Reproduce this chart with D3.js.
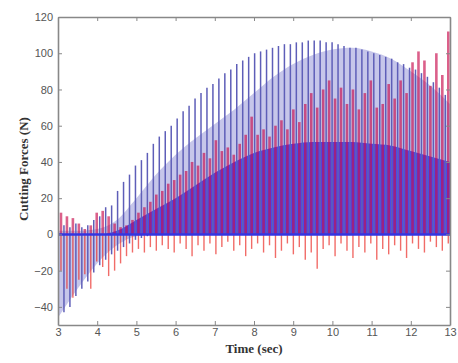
<!DOCTYPE html>
<html>
<head>
<meta charset="utf-8">
<script src="https://cdn.jsdelivr.net/npm/d3@7"></script>
<style>
  body { margin: 0; background: #fff; }
  .tick text { font-family: "Liberation Sans", Arial, sans-serif; font-size: 11px; fill: #555; }
</style>
</head>
<body>
<svg id="chart" width="458" height="363"></svg>
<script>
// axis ticks
const xTicks = [3, 4, 5, 6, 7, 8, 9, 10, 11, 12, 13];
const yTicks = [-40, -20, 0, 20, 40, 60, 80, 100, 120];

// spike grid (tooth passing period, sec) and first spike times
const spikePeriod = 0.152;
const blueStart = 3.0;
const redStart = 3.076;

// blue force: spike tops and bottoms (N), one per period
const bluePeaks = [3, 5, 4, 6, 4, 5, 8, 10, 15, 16,
  24, 29, 33, 38, 41, 45, 50, 54, 57, 60,
  64, 68, 71, 75, 78, 81, 83, 86, 89, 91,
  94, 96, 98, 100, 101, 102, 103, 104, 105, 105,
  106, 106, 107, 107, 107, 106, 106, 105, 104, 103,
  103, 102, 101, 100, 99, 98, 97, 95, 94, 92,
  91, 89, 87, 84, 81, 77];
const blueTroughs = [-30, -43, -40, -34, -30, -26, -21, -17, -14, -11,
  -9, -7, -5, -3, -2, -1, 0, 0, 0, 0,
  0, 0, 0, 0, 0, 0, 0, 0, 0, 0,
  0, 0, 0, 0, 0, 0, 0, 0, 0, 0,
  0, 0, 0, 0, 0, 0, 0, 0, 0, 0,
  0, 0, 0, 0, 0, 0, 0, 0, 0, 0,
  0, 0, 0, 0, 0, 0];

// red force: spike tops and bottoms (N)
const redPeaks = [12, 10, 9, 6, 3, 5, 12, 13, 10, 6,
  4, 5, 8, 12, 15, 18, 22, 24, 28, 30,
  33, 35, 40, 38, 45, 42, 52, 46, 48, 44,
  50, 55, 65, 55, 58, 54, 60, 63, 58, 69,
  62, 72, 78, 70, 80, 85, 75, 81, 72, 80,
  69, 78, 85, 70, 72, 83, 75, 85, 78, 95,
  101, 96, 82, 100, 88, 112];
const redTroughs = [-20, -30, -35, -25, -22, -30, -15, -18, -23, -20,
  -16, -12, -10, -8, -10, -7, -9, -6, -8, -10,
  -5, -8, -12, -6, -9, -5, -11, -7, -4, -9,
  -6, -12, -8, -5, -10, -6, -13, -9, -5, -11,
  -7, -14, -10, -19, -8, -6, -12, -5, -9, -13,
  -7, -10, -5, -14, -8, -11, -6, -9, -13, -5,
  -8, -10, -4, -7, -9, -5];

// envelopes of the shaded blue regions, every 0.5 sec
const envTimes = [3, 3.5, 4, 4.5, 5, 5.5, 6, 6.5, 7, 7.5, 8, 8.5, 9, 9.5, 10, 10.5, 11, 11.5, 12, 12.5, 13];
const blueFillTop = [2, 2, 3, 8, 20, 33, 44, 53, 61, 69, 78, 87, 94, 99, 102, 103, 101, 97, 90, 82, 72];
const blueFillBottom = [-46, -30, -16, -6, -1, 0, 0, 0, 0, 0, 0, 0, 0, 0, 0, 0, 0, 0, 0, 0, 0];
const blueDenseTop = [0, 0, 0, 2, 8, 14, 20, 27, 34, 40, 45, 48, 50, 51, 51, 51, 50, 49, 46, 43, 40];

const svg = d3.select('#chart');
const x = d3.scaleLinear().domain([3, 13]).range([58, 450]);
const y = d3.scaleLinear().domain([-50, 120]).range([325, 17]);

svg.append('defs').append('clipPath').attr('id', 'plot')
  .append('rect')
  .attr('x', x(3)).attr('y', y(120))
  .attr('width', x(13) - x(3)).attr('height', y(-50) - y(120));

const plot = svg.append('g').attr('clip-path', 'url(#plot)');

const env = envTimes.map((t, i) => ({t: t, top: blueFillTop[i], bottom: blueFillBottom[i], dense: blueDenseTop[i]}));

// light blue region
plot.append('path')
  .datum(env)
  .attr('d', d3.area().x(d => x(d.t)).y0(d => y(d.bottom)).y1(d => y(d.top)).curve(d3.curveMonotoneX))
  .attr('fill', '#c6c6ea');

// dense blue region
plot.append('path')
  .datum(env)
  .attr('d', d3.area().x(d => x(d.t)).y0(y(0)).y1(d => y(d.dense)).curve(d3.curveMonotoneX))
  .attr('fill', '#4a4aea');

const blue = bluePeaks.map((v, i) => ({t: blueStart + i * spikePeriod, hi: v, lo: blueTroughs[i]}));
const red = redPeaks.map((v, i) => ({t: redStart + i * spikePeriod, hi: v, lo: redTroughs[i]}));

plot.append('g').selectAll('line')
  .data(blue)
  .join('line')
  .attr('x1', d => x(d.t)).attr('x2', d => x(d.t))
  .attr('y1', d => y(d.lo)).attr('y2', d => y(d.hi))
  .attr('stroke', '#5e5eb8')
  .attr('stroke-width', 1.5);

// red spikes: upper part over the blue, lower part thinner
plot.append('g').selectAll('line')
  .data(red)
  .join('line')
  .attr('x1', d => x(d.t)).attr('x2', d => x(d.t))
  .attr('y1', y(0)).attr('y2', d => y(d.hi))
  .attr('stroke', 'rgb(200, 10, 75)')
  .attr('stroke-opacity', 0.65)
  .attr('stroke-width', 2.6);

plot.append('g').selectAll('line')
  .data(red)
  .join('line')
  .attr('x1', d => x(d.t)).attr('x2', d => x(d.t))
  .attr('y1', d => y(d.lo)).attr('y2', y(0))
  .attr('stroke', 'rgb(235, 45, 40)')
  .attr('stroke-opacity', 0.7)
  .attr('stroke-width', 1.4);

// blue baseline at zero
plot.append('line')
  .attr('x1', x(3)).attr('x2', x(13))
  .attr('y1', y(0)).attr('y2', y(0))
  .attr('stroke', '#3434e0')
  .attr('stroke-width', 2.5);

// axes, matlab style box with inward ticks
function styleAxis(g) {
  g.select('.domain').attr('stroke', '#888').attr('stroke-width', 1.6);
  g.selectAll('.tick line').attr('stroke', '#888');
}

svg.append('g').attr('transform', 'translate(0,' + y(-50) + ')')
  .call(d3.axisBottom(x).tickValues(xTicks).tickSizeInner(-4).tickSizeOuter(0).tickPadding(3).tickFormat(d3.format('d')))
  .call(styleAxis);
svg.append('g').attr('transform', 'translate(0,' + y(120) + ')')
  .call(d3.axisTop(x).tickValues(xTicks).tickSizeInner(-4).tickSizeOuter(0).tickFormat(''))
  .call(styleAxis);
svg.append('g').attr('transform', 'translate(' + x(3) + ',0)')
  .call(d3.axisLeft(y).tickValues(yTicks).tickSizeInner(-4).tickSizeOuter(0).tickPadding(5).tickFormat(d3.format('d')))
  .call(styleAxis);
svg.append('g').attr('transform', 'translate(' + x(13) + ',0)')
  .call(d3.axisRight(y).tickValues(yTicks).tickSizeInner(-4).tickSizeOuter(0).tickFormat(''))
  .call(styleAxis);

svg.append('text')
  .attr('x', (x(3) + x(13)) / 2)
  .attr('y', 353)
  .attr('text-anchor', 'middle')
  .attr('font-family', '"Liberation Serif", "Times New Roman", serif')
  .attr('font-weight', 'bold')
  .attr('font-size', 13)
  .attr('fill', '#333')
  .text('Time (sec)');

svg.append('text')
  .attr('transform', 'translate(28,' + 169 + ') rotate(-90)')
  .attr('text-anchor', 'middle')
  .attr('font-family', '"Liberation Serif", "Times New Roman", serif')
  .attr('font-weight', 'bold')
  .attr('font-size', 13)
  .attr('fill', '#333')
  .text('Cutting Forces (N)');
</script>
</body>
</html>
